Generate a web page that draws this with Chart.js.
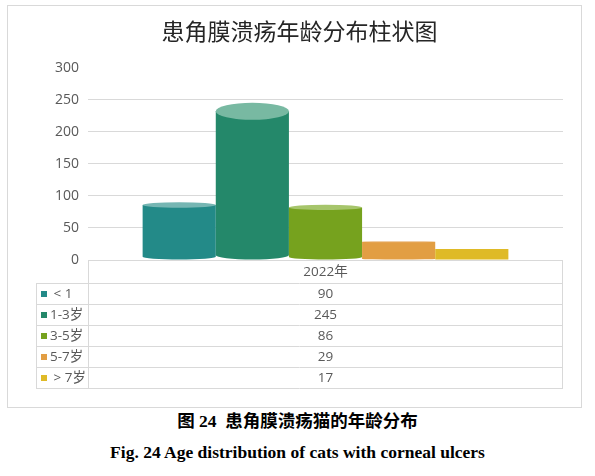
<!DOCTYPE html>
<html>
<head>
<meta charset="utf-8">
<script src="https://cdn.jsdelivr.net/npm/chart.js@4.4.0/dist/chart.umd.min.js"></script>
<style>
  body { margin: 0; background: #fff; width: 595px; height: 476px; position: relative; overflow: hidden; }
  #frame { position: absolute; left: 7px; top: 5px; width: 575px; height: 403px; box-sizing: border-box; border: 1px solid #d9d9d9; }
  #wrap { position: absolute; left: 0; top: 0; width: 595px; height: 410px; }
  .cap { position: absolute; left: 0; width: 595px; text-align: center; color: #000; font-weight: bold; font-size: 17.5px; line-height: 22px; }
  #cap-cn { top: 410px; font-family: "Liberation Serif", "Noto Sans CJK SC", serif; }
  #cap-en { top: 441px; font-family: "Liberation Serif", serif; }
</style>
</head>
<body>
<div id="frame"></div>
<div id="wrap"><canvas id="chart"></canvas></div>
<div class="cap" id="cap-cn">图 24&nbsp;&nbsp;患角膜溃疡猫的年龄分布</div>
<div class="cap" id="cap-en">Fig. 24 Age distribution of cats with corneal ulcers</div>
<script>
// 数据
const years = ["2022年"];
const ageGroups = [" < 1", "1-3岁", "3-5岁", "5-7岁", " > 7岁"];
const catCounts = [90, 245, 86, 29, 17];
const yTicks = [0, 50, 100, 150, 200, 250, 300];

const sideColors = ["#238a88", "#24886a", "#76a21e", "#e29e43", "#dfba27"];
const topColors = ["#76b6b3", "#78b9a2", "#a6c56b", "#eab57a", "#e8cd68"];

const FONT = '"Open Sans", "Noto Sans CJK SC", sans-serif';
const TEXT = "#595959";
const LINE = "#d9d9d9";

// 圆柱体
const cylinderPlugin = {
    id: "cylinders",
    beforeDatasetsDraw(chart) {
        const ctx = chart.ctx;
        chart.data.datasets.forEach((ds, i) => {
            const meta = chart.getDatasetMeta(i);
            meta.data.forEach(el => {
                const { x, y, base, width } = el.getProps(["x", "y", "base", "width"], true);
                const left = x - width / 2, right = x + width / 2;
                const h = base - y;
                const ry = Math.max(0, h * 0.058 - 0.6);
                const ryb = Math.min(ry, 4.5);
                ctx.save();
                ctx.beginPath();
                ctx.moveTo(left, y + ry);
                ctx.lineTo(left, base - ryb);
                if (ryb > 0) ctx.ellipse(x, base - ryb, width / 2, ryb, 0, Math.PI, 0, true);
                else ctx.lineTo(right, base);
                ctx.lineTo(right, y + ry);
                ctx.closePath();
                ctx.fillStyle = sideColors[i];
                ctx.fill();
                if (ry > 0.3) {
                    ctx.beginPath();
                    ctx.ellipse(x, y + ry, width / 2, ry, 0, 0, Math.PI * 2);
                    ctx.fillStyle = topColors[i];
                    ctx.fill();
                }
                ctx.restore();
            });
        });
        return false;
    },
};

// 数据表
const tablePlugin = {
    id: "dataTable",
    afterDraw(chart) {
        const ctx = chart.ctx;
        const area = chart.chartArea;
        const tLeft = 36, cLeft = area.left, cRight = area.right;
        const top = area.bottom;
        const headH = 23, rowH = 21;
        const rowsTop = top + headH;
        const bottom = rowsTop + rowH * ageGroups.length;
        const mid = (cLeft + cRight) / 2;

        ctx.save();
        ctx.strokeStyle = LINE;
        ctx.lineWidth = 1;
        ctx.beginPath();
        ctx.moveTo(cLeft + 0.5, top);
        ctx.lineTo(cLeft + 0.5, bottom + 0.5);
        ctx.moveTo(cRight - 0.5, top);
        ctx.lineTo(cRight - 0.5, bottom + 0.5);
        ctx.moveTo(tLeft + 0.5, rowsTop);
        ctx.lineTo(tLeft + 0.5, bottom + 0.5);
        for (let r = 0; r <= ageGroups.length; r++) {
            const yy = Math.round(rowsTop + r * rowH) + 0.5;
            ctx.moveTo(tLeft, yy);
            ctx.lineTo(cRight, yy);
        }
        ctx.stroke();

        ctx.font = "13.5px " + FONT;
        ctx.fillStyle = TEXT;
        ctx.textBaseline = "middle";
        ctx.textAlign = "center";
        ctx.fillText(years[0], mid, top + headH / 2 + 1);

        ageGroups.forEach((g, r) => {
            const cy = rowsTop + r * rowH + rowH / 2 + 0.5;
            ctx.fillStyle = sideColors[r];
            ctx.fillRect(41, cy - 3, 6, 6);
            ctx.fillStyle = TEXT;
            ctx.textAlign = "left";
            ctx.fillText(g, 50, cy);
            ctx.textAlign = "center";
            ctx.fillText(String(catCounts[r]), mid, cy);
        });
        ctx.restore();
    },
};

new Chart(document.getElementById("chart"), {
    type: "bar",
    data: {
        labels: years,
        datasets: ageGroups.map((g, i) => ({
            label: g,
            data: [catCounts[i]],
            backgroundColor: sideColors[i],
        })),
    },
    options: {
        responsive: true,
        maintainAspectRatio: false,
        animation: false,
        layout: { padding: { left: 36, right: 32, top: 0, bottom: 150 } },
        datasets: { bar: { categoryPercentage: 0.77, barPercentage: 1 } },
        plugins: {
            legend: { display: false },
            tooltip: { enabled: false },
            title: {
                display: true,
                text: "患角膜溃疡年龄分布柱状图",
                color: "#262626",
                font: { family: '"Noto Sans CJK SC", sans-serif', size: 23, weight: "normal", lineHeight: 1.2 },
                padding: { top: 17, bottom: 23 },
            },
        },
        scales: {
            x: { display: false },
            y: {
                min: yTicks[0],
                max: yTicks[yTicks.length - 1],
                afterFit: s => { s.width = 52; },
                afterBuildTicks: s => { s.ticks = yTicks.map(v => ({ value: v })); },
                border: { display: false },
                grid: {
                    drawTicks: false,
                    color: c => (c.tick && c.tick.value === 300 ? "rgba(0,0,0,0)" : LINE),
                },
                ticks: { padding: 9, color: TEXT, font: { family: FONT, size: 14 } },
            },
        },
    },
    plugins: [cylinderPlugin, tablePlugin],
});
</script>
</body>
</html>
